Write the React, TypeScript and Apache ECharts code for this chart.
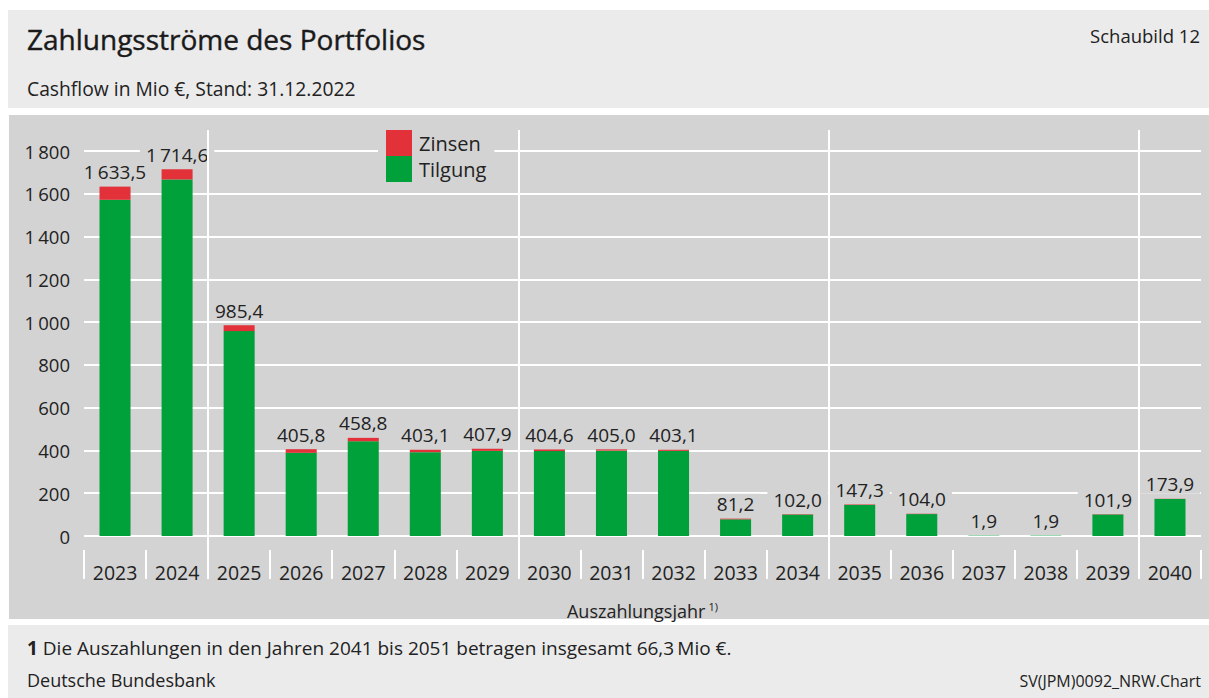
import React, { useEffect, useRef } from 'react';
import * as echarts from 'echarts';

const years = ['2023','2024','2025','2026','2027','2028','2029','2030','2031','2032','2033','2034','2035','2036','2037','2038','2039','2040'];
const tilgung = [1572.0, 1667.0, 958.0, 389.0, 443.0, 392.0, 398.0, 397.0, 399.0, 398.0, 78.0, 100.0, 145.0, 102.5, 1.8, 1.8, 100.5, 173.0];
const zinsen = [61.5, 47.6, 27.4, 16.8, 15.8, 11.1, 9.9, 7.6, 6.0, 5.1, 3.2, 2.0, 2.3, 1.5, 0.1, 0.1, 1.4, 0.9];
const yMin = 0;
const yMax = 1800;
const yInterval = 200;
const groupBreaks = [2, 7, 12, 17];

const FONT = "'Open Sans', 'Noto Sans', sans-serif";
const TXT = '#222222';
const GREEN = '#00a03a';
const RED = '#e3313a';
const AREA = '#d3d3d3';
const BOX = '#ebebeb';

function fmtNum(v: number, dec: number): string {
  const s = v.toFixed(dec);
  const [intPart, decPart] = s.split('.');
  let i = intPart;
  if (i.length > 3) i = i.slice(0, i.length - 3) + '\u2009' + i.slice(i.length - 3);
  return decPart !== undefined ? i + ',' + decPart : i;
}

export default function App() {
  const ref = useRef<HTMLDivElement>(null);
  useEffect(() => {
    document.body.style.margin = '0';
    const chart = echarts.init(ref.current!, null, { renderer: 'svg' });
    const option: any = {
      animation: false,
      backgroundColor: '#ffffff',
      textStyle: { fontFamily: FONT, color: TXT },
      graphic: [
        { type: 'rect', z: -100, shape: { x: 8, y: 10, width: 1201, height: 98 }, style: { fill: BOX } },
        { type: 'rect', z: -100, shape: { x: 9, y: 115, width: 1200, height: 504 }, style: { fill: AREA } },
        { type: 'rect', z: -100, shape: { x: 8, y: 625, width: 1201, height: 73 }, style: { fill: BOX } },
        { type: 'text', x: 27, y: 39, style: { text: 'Zahlungsströme des Portfolios', fontFamily: FONT, fontSize: 28, fontWeight: 'normal', fill: '#1a1a1a', stroke: '#1a1a1a', lineWidth: 0.4, verticalAlign: 'middle' } },
        { type: 'text', x: 1200, y: 35, style: { text: 'Schaubild 12', fontFamily: FONT, fontSize: 18.5, fill: TXT, align: 'right', verticalAlign: 'middle' } },
        { type: 'text', x: 27, y: 88, style: { text: 'Cashflow in Mio €, Stand: 31.12.2022', fontFamily: FONT, fontSize: 19.3, fill: TXT, verticalAlign: 'middle' } },
        { type: 'text', x: 27, y: 648, style: { text: '{b|1} Die Auszahlungen in den Jahren 2041 bis 2051 betragen insgesamt 66,3\u2009Mio €.', fontFamily: FONT, fontSize: 19, fill: TXT, verticalAlign: 'middle', rich: { b: { fontFamily: FONT, fontSize: 19, fontWeight: 'bold', fill: TXT } } } },
        { type: 'text', x: 27, y: 680, style: { text: 'Deutsche Bundesbank', fontFamily: FONT, fontSize: 18, fill: TXT, verticalAlign: 'middle' } },
        { type: 'text', x: 1201, y: 681, style: { text: 'SV(JPM)0092_NRW.Chart', fontFamily: FONT, fontSize: 16, fill: TXT, align: 'right', verticalAlign: 'middle' } },
      ],
      legend: {
        data: ['Zinsen', 'Tilgung'],
        orient: 'vertical',
        left: 378,
        top: 130,
        padding: [0, 8, 0, 8],
        itemGap: 0,
        itemWidth: 26,
        itemHeight: 26,
        icon: 'rect',
        backgroundColor: AREA,
        textStyle: { fontFamily: FONT, fontSize: 20, color: TXT, padding: [0, 0, 0, 2] },
        selectedMode: false,
      },
      grid: [
        { left: 84, right: 8, top: 151, bottom: 162 },
        { left: 84, right: 8, top: 130, bottom: 119 },
      ],
      xAxis: [
        {
          type: 'category',
          gridIndex: 0,
          data: years,
          boundaryGap: true,
          axisLine: { show: false },
          axisTick: { show: false },
          axisLabel: { margin: 26, fontFamily: FONT, fontSize: 19.5, color: TXT, interval: 0 },
          name: '{a|Auszahlungsjahr} {s|1)}',
          nameLocation: 'middle',
          nameGap: 65,
          nameTextStyle: {
            rich: {
              a: { fontFamily: FONT, fontSize: 18, color: TXT },
              s: { fontFamily: FONT, fontSize: 11, color: TXT, padding: [0, 0, 9, 0] },
            },
          },
        },
        {
          type: 'value',
          gridIndex: 1,
          min: 0,
          max: years.length,
          interval: 1,
          axisLine: { show: false },
          axisTick: { show: true, inside: true, length: 29, lineStyle: { color: '#ffffff', width: 2 } },
          axisLabel: { show: false },
          splitLine: { show: false },
        },
      ],
      yAxis: [
        {
          type: 'value',
          gridIndex: 0,
          min: yMin,
          max: yMax,
          interval: yInterval,
          axisLine: { show: false },
          axisTick: { show: false },
          axisLabel: { margin: 14, fontFamily: FONT, fontSize: 18.5, color: TXT, formatter: (v: number) => fmtNum(v, 0) },
          splitLine: { show: true, lineStyle: { color: '#ffffff', width: 2 } },
        },
        { type: 'value', gridIndex: 1, min: 0, max: 1, show: false },
      ],
      series: [
        {
          name: 'Tilgung',
          type: 'bar',
          stack: 'cf',
          xAxisIndex: 0,
          yAxisIndex: 0,
          barWidth: '50%',
          itemStyle: { color: GREEN },
          data: tilgung,
        },
        {
          name: 'Zinsen',
          type: 'bar',
          stack: 'cf',
          xAxisIndex: 0,
          yAxisIndex: 0,
          barWidth: '50%',
          itemStyle: { color: RED },
          data: zinsen,
          label: {
            show: true,
            position: 'top',
            distance: 5,
            fontFamily: FONT,
            fontSize: 19,
            color: TXT,
            backgroundColor: AREA,
            padding: [1, 6, 0, 6],
            formatter: (p: any) => fmtNum(tilgung[p.dataIndex] + zinsen[p.dataIndex], 1),
          },
        },
        {
          name: 'breaks',
          type: 'line',
          xAxisIndex: 1,
          yAxisIndex: 1,
          data: [[0, 0]],
          showSymbol: false,
          symbol: 'none',
          lineStyle: { opacity: 0 },
          silent: true,
          z: 1,
          markLine: {
            silent: true,
            symbol: 'none',
            label: { show: false },
            lineStyle: { color: '#ffffff', width: 2, type: 'solid' },
            data: groupBreaks.map((b) => ({ xAxis: b })),
          },
        },
      ],
    };
    chart.setOption(option);
    return () => chart.dispose();
  }, []);
  return <div ref={ref} style={{ width: 1209, height: 698 }} />;
}
